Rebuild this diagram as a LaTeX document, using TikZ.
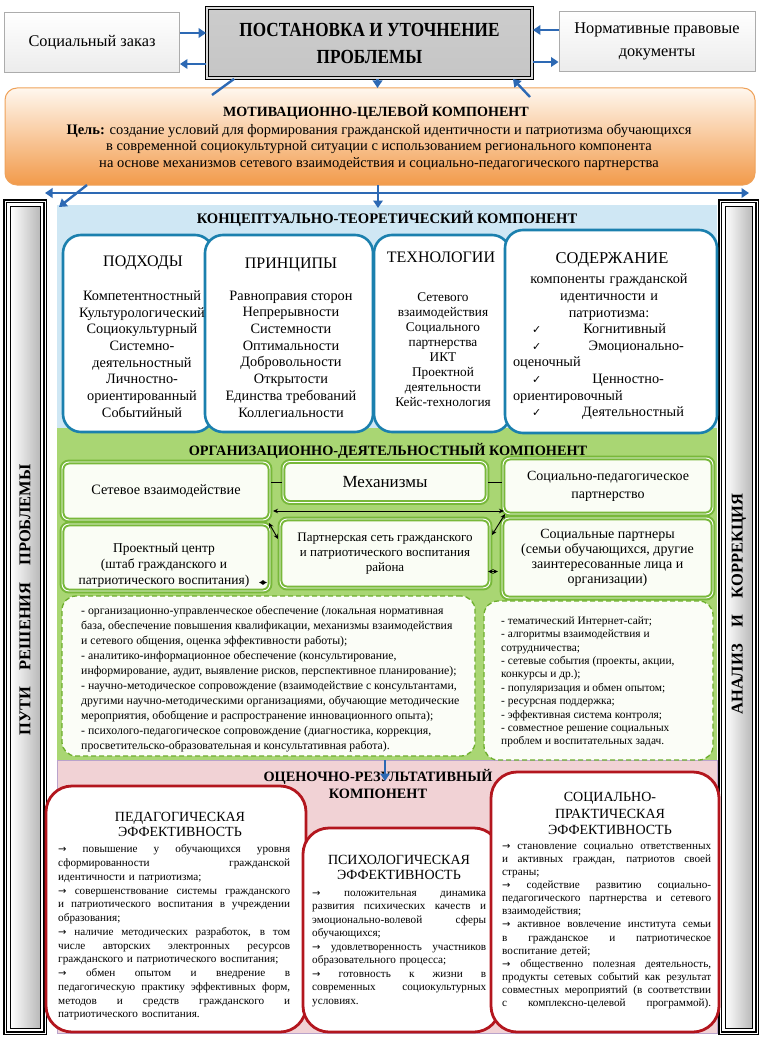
\documentclass[tikz,border=0pt]{standalone}
\usepackage{fontspec}
\usepackage{graphicx}
\setmainfont{Liberation Serif}
\newfontfamily\dvs{DejaVu Sans}
\usetikzlibrary{arrows.meta}
\definecolor{arrowb}{HTML}{2D69B4}
\definecolor{blueb}{HTML}{1B80AE}
\definecolor{bluesec}{HTML}{CFE7F4}
\definecolor{greensec}{HTML}{A9D673}
\definecolor{greenb}{HTML}{78B83A}
\definecolor{greenf}{HTML}{FAFDF5}
\definecolor{greend}{HTML}{6DAE2C}
\definecolor{dashf}{HTML}{FBFDF7}
\definecolor{pinksec}{HTML}{F1D2D5}
\definecolor{pinkb}{HTML}{B9A3CB}
\definecolor{redb}{HTML}{B3161E}
\definecolor{orangeb}{HTML}{EFA25A}
\definecolor{orangebot}{HTML}{F29A4A}
\definecolor{orangemid}{HTML}{FAD0A3}
\definecolor{orangetop}{HTML}{FFF7EE}
\newcommand\fs[2]{\fontsize{#1}{#2}\selectfont}
\newcommand\jl[1]{\leavevmode\hbox to \hsize{\spaceskip=0.25em plus 1fil\xspaceskip=0.25em plus 1fil\relax #1}}
\newcommand\cl[1]{\leavevmode\hbox to \hsize{\hfil #1\hfil}}
\newcommand\rar{{\dvs\fontsize{10}{10}\selectfont →}}
\newcommand\chk{{\dvs\fontsize{11}{11}\selectfont ✓}}
\tikzset{
 sect/.style={anchor=north west, inner sep=0, outer sep=0},
 bbox/.style={draw=blueb, line width=2.6pt, fill=white, rounded corners=18pt, inner sep=0},
 gbox/.style={draw=greenb, double=white, double distance=0.9pt, line width=2pt, fill=greenf, rounded corners=7pt, inner sep=0, align=center},
 dbox/.style={draw=greend, dash pattern=on 5pt off 3pt, line width=1.3pt, fill=dashf, rounded corners=14pt, inner sep=0},
 rbox/.style={draw=redb, line width=2.8pt, fill=white, rounded corners=26pt, inner sep=0},
 barr/.style={draw=arrowb, line width=2.4pt, -{Triangle[length=7.5pt,width=9.5pt]}},
 barrtwo/.style={draw=arrowb, line width=2.4pt, {Triangle[length=7.5pt,width=9.5pt]}-{Triangle[length=7.5pt,width=9.5pt]}},
 karr/.style={draw=black, line width=0.9pt, {Stealth[length=5pt,width=4.5pt]}-{Stealth[length=5pt,width=4.5pt]}},
 kline/.style={draw=black, line width=0.8pt},
 txt/.style={inner sep=0, align=center},
 barout/.style={sect, draw=black, line width=1.1pt, double=white, double distance=0.9pt, fill=white},
 barin/.style={draw=black, line width=0.7pt, left color=white, right color=gray!55, inner sep=0},
 bartext/.style={rotate=90, inner sep=0, font=\bfseries\fs{16.5}{16.5}},
 topbox/.style={draw=gray!65, line width=0.9pt, top color=white, bottom color=gray!15, inner sep=0, align=center},
}
\begin{document}
\begin{tikzpicture}[x=1pt,y=-1pt]
\useasboundingbox (0,0) rectangle (759,1038);
\fill[white] (0,0) rectangle (759,1038);

% ---------- sections ----------
\node[sect, fill=bluesec, minimum width=660pt, minimum height=223pt] (blue) at (57,205) {};
\node[sect, fill=greensec, minimum width=660pt, minimum height=333pt] (green) at (57,428) {};
\node[sect, fill=pinksec, draw=pinkb, line width=1pt, minimum width=660pt, minimum height=273pt] (pink) at (57,760) {};

% ---------- side bars ----------
\node[barout, minimum width=40pt, minimum height=832pt] (lbar) at (5,201) {};
\node[barin, minimum width=30pt, minimum height=822pt] (lbari) at (lbar.center) {};
\node[bartext] (lbart) at (25,600) {ПУТИ\hspace{1em}РЕШЕНИЯ\hspace{1em}ПРОБЛЕМЫ};
\node[barout, minimum width=37pt, minimum height=832pt] (rbar) at (720,201) {};
\node[barin, minimum width=27pt, minimum height=822pt] (rbari) at (rbar.center) {};
\node[bartext] (rbart) at (739,604) {АНАЛИЗ\hspace{1em}И\hspace{1em}КОРРЕКЦИЯ};

% ---------- top ----------
\node[topbox, minimum width=175pt, minimum height=60pt, font=\fs{16.3}{19}] (soc) at (92,42) {Социальный заказ};
\node[draw=black, line width=1.8pt, double=gray!30, double distance=1.2pt, top color=gray!40, middle color=gray!8, bottom color=gray!45, minimum width=325pt, minimum height=70pt, inner sep=0, align=center, font=\bfseries\fs{20}{27}] (prob) at (369.5,43) {\scalebox{0.86}[1]{ПОСТАНОВКА И УТОЧНЕНИЕ}\\\scalebox{0.86}[1]{ПРОБЛЕМЫ}};
\node[topbox, minimum width=196pt, minimum height=60pt, font=\fs{16.3}{23}] (norm) at (657,41) {Нормативные правовые\\документы};

\draw[barr] ([yshift=9pt]soc.east) -- ([yshift=9pt]soc.east -| prob.west);
\draw[barr] ([yshift=-21pt]prob.west) -- ([yshift=-21pt]prob.west -| soc.east);
\draw[barr] ([yshift=11pt]norm.west) -- ([yshift=11pt]norm.west -| prob.east);
\draw[barr] ([yshift=-19pt]prob.east) -- ([yshift=-19pt]prob.east -| norm.west);

% ---------- motivation ----------
\node[sect, draw=orangeb, line width=1pt, rounded corners=12pt, top color=orangetop, middle color=orangemid, bottom color=orangebot, minimum width=750pt, minimum height=97pt] (mot) at (5,88) {};
\node[txt, font=\bfseries\fs{14.1}{17}] (mott) at (376,112) {МОТИВАЦИОННО-ЦЕЛЕВОЙ КОМПОНЕНТ};
\node[txt, font=\fs{14.5}{16.6}] (motb) at (379,147) {\textbf{Цель:} создание условий для формирования гражданской идентичности и патриотизма обучающихся\\в современной социокультурной ситуации с использованием регионального компонента\\на основе механизмов сетевого взаимодействия и социально-педагогического партнерства};

\draw[draw=arrowb, line width=2.4pt] ([xshift=28pt]prob.south west) -- ([xshift=207pt,yshift=-7pt]mot.north west);
\draw[barr] ([xshift=8pt]prob.south) -- ([xshift=8pt]prob.south |- mot.north);
\draw[barr] ([xshift=-225pt,yshift=-9pt]mot.north east) -- ([xshift=-20pt]prob.south east);

\coordinate (hl) at (45,193);
\coordinate (hr) at (749,193);
\draw[barrtwo] (hl) -- (hr);
\draw[barr] ([xshift=-2pt]mot.south) -- ([xshift=-2pt,yshift=-3pt]blue.north -| mot.south);
\draw[barr] ([xshift=82pt]mot.south west) -- ([xshift=14pt,yshift=-6pt]lbar.north east);

% ---------- conceptual ----------
\node[txt, font=\bfseries\fs{14.6}{17}] (bluet) at (387,219) {КОНЦЕПТУАЛЬНО-ТЕОРЕТИЧЕСКИЙ КОМПОНЕНТ};
\node[bbox, minimum width=150pt, minimum height=197pt] (pod) at (138,333.5) {};
\node[bbox, minimum width=168pt, minimum height=197pt] (prin) at (289,333.5) {};
\node[bbox, minimum width=136pt, minimum height=197pt] (tech) at (442,333.5) {};
\node[bbox, minimum width=212pt, minimum height=203pt] (sod) at (611,331.5) {};

\node[txt, font=\fs{16}{18}] (podh) at (143,263) {ПОДХОДЫ};
\node[txt, font=\fs{14.3}{16.7}] (podb) at (142,354) {Компетентностный\\Культурологический\\Социокультурный\\Системно-\\деятельностный\\Личностно-\\ориентированный\\Событийный};
\node[txt, font=\fs{16}{18}] (prinh) at (291,265) {ПРИНЦИПЫ};
\node[txt, font=\fs{14.3}{16.7}] (prinb) at (291,354) {Равноправия сторон\\Непрерывности\\Системности\\Оптимальности\\Добровольности\\Открытости\\Единства требований\\Коллегиальности};
\node[txt, font=\fs{16}{18}] (techh) at (441,257) {ТЕХНОЛОГИИ};
\node[txt, font=\fs{13.3}{15}] (techb) at (443,350) {Сетевого\\взаимодействия\\Социального\\партнерства\\ИКТ\\Проектной\\деятельности\\Кейс-технология};
\node[txt, font=\fs{16.5}{18}] (sodh) at (612,260) {СОДЕРЖАНИЕ};
\node[inner sep=0, text width=192pt, align=left, font=\fs{14.3}{16.6}] (sodb) at (609,347) {%
\cl{компоненты гражданской}\\
\cl{идентичности и}\\
\cl{патриотизма:}\\
\cl{\hspace{19pt}\chk\hfill Когнитивный\hspace{39pt}}\\
\cl{\hspace{19pt}\chk\hfill Эмоционально-\hspace{21pt}}\\
\cl{оценочный\hfill}\\
\cl{\hspace{19pt}\chk\hfill Ценностно-\hspace{41pt}}\\
\cl{ориентировочный\hfill}\\
\cl{\hspace{19pt}\chk\hfill Деятельностный\hspace{21pt}}};

% ---------- organisational ----------
\node[txt, font=\bfseries\fs{14.3}{17}] (greent) at (388,451) {ОРГАНИЗАЦИОННО-ДЕЯТЕЛЬНОСТНЫЙ КОМПОНЕНТ};
\node[gbox, minimum width=208pt, minimum height=58pt, font=\fs{14.3}{17}] (setev) at (166,491) {Сетевое взаимодействие};
\node[gbox, minimum width=204pt, minimum height=41pt, font=\fs{17}{19}] (mech) at (385,482) {Механизмы};
\node[gbox, minimum width=210pt, minimum height=56pt, font=\fs{14}{18}] (socped) at (608,486) {Социально-педагогическое\\партнерство};
\node[gbox, minimum width=208pt, minimum height=67pt] (proekt) at (166,557.5) {};
\node[txt, font=\fs{13.5}{16}] (proektt) at (164,565) {Проектный центр\\(штаб гражданского и\\патриотического воспитания)};
\node[gbox, minimum width=210pt, minimum height=69pt, font=\fs{13}{15}] (partner) at (385,553.5) {Партнерская сеть гражданского\\и патриотического воспитания\\района};
\node[gbox, minimum width=211pt, minimum height=80pt, font=\fs{14}{15}] (socpart) at (607.5,558) {Социальные партнеры\\(семьи обучающихся, другие\\заинтересованные лица и\\организации)};

\draw[kline] (mech.west) -- (mech.west -| setev.east);
\draw[kline] (mech.east) -- (mech.east -| socped.west);
\draw[karr] ([xshift=2pt,yshift=-20pt]setev.east) -- ([xshift=2pt,yshift=-20pt]setev.east -| socped.west);
\draw[karr] ([xshift=-2pt,yshift=-2pt]setev.south east) -- ([xshift=-1pt,yshift=-21pt]partner.north west);
\draw[karr] ([xshift=1pt,yshift=-17pt]partner.north east) -- ([xshift=3pt,yshift=1pt]socped.south west);
\draw[karr] ([xshift=-12pt,yshift=-25pt]proekt.east) -- ([xshift=-12pt,yshift=-25pt]proekt.east -| partner.west);
\draw[karr] ([xshift=-3pt,yshift=-18pt]partner.east) -- ([xshift=-3pt,yshift=-18pt]partner.east -| socpart.west);

\node[dbox, minimum width=413pt, minimum height=160pt] (dl) at (268.5,676) {};
\node[anchor=west, inner sep=0, align=left, font=\fs{11.8}{15}] (dlt) at (81,679) {%
- организационно-управленческое обеспечение (локальная нормативная\\
база, обеспечение повышения квалификации, механизмы взаимодействия\\
и сетевого общения, оценка эффективности работы);\\
- аналитико-информационное обеспечение (консультирование,\\
информирование, аудит, выявление рисков, перспективное планирование);\\
- научно-методическое сопровождение (взаимодействие с консультантами,\\
другими научно-методическими организациями, обучающие методические\\
мероприятия, обобщение и распространение инновационного опыта);\\
- психолого-педагогическое сопровождение (диагностика, коррекция,\\
просветительско-образовательная и консультативная работа).};
\node[dbox, minimum width=229pt, minimum height=159pt] (dr) at (598.5,680.5) {};
\node[anchor=west, inner sep=0, align=left, font=\fs{11.4}{13.4}] (drt) at (501,682) {%
- тематический Интернет-сайт;\\
- алгоритмы взаимодействия и\\
сотрудничества;\\
- сетевые события (проекты, акции,\\
конкурсы и др.);\\
- популяризация и обмен опытом;\\
- ресурсная поддержка;\\
- эффективная система контроля;\\
- совместное решение социальных\\
проблем и воспитательных задач.};

% ---------- evaluation ----------
\node[txt, font=\bfseries\fs{14.3}{17}] (pinkt) at (378,783.5) {ОЦЕНОЧНО-РЕЗУЛЬТАТИВНЫЙ\\КОМПОНЕНТ};
\draw[barr, line width=1.8pt] ([xshift=-2pt]pink.north) -- ([xshift=-2pt,yshift=-21pt]pink.north);

\node[rbox, minimum width=260pt, minimum height=246pt] (ped) at (176,909) {};
\node[rbox, minimum width=197pt, minimum height=204pt] (psy) at (401.5,930) {};
\node[rbox, minimum width=228pt, minimum height=260pt] (soce) at (605,902) {};

\node[txt, font=\fs{14}{15}] (pedh) at (180,824.5) {ПЕДАГОГИЧЕСКАЯ\\ЭФФЕКТИВНОСТЬ};
\node[anchor=west, text width=232pt, align=left, inner sep=0, font=\fs{11.2}{13.75}] (pedb) at (58,932.5) {%
\jl{\rar{} повышение у обучающихся уровня}\\
\jl{сформированности гражданской}\\
идентичности и патриотизма;\\
\jl{\rar{} совершенствование системы гражданского}\\
\jl{и патриотического воспитания в учреждении}\\
образования;\\
\jl{\rar{} наличие методических разработок, в том}\\
\jl{числе авторских электронных ресурсов}\\
гражданского и патриотического воспитания;\\
\jl{\rar{} обмен опытом и внедрение в}\\
\jl{педагогическую практику эффективных форм,}\\
\jl{методов и средств гражданского и}\\
патриотического воспитания.};

\node[txt, font=\fs{14}{15}] (psyh) at (399,867.5) {ПСИХОЛОГИЧЕСКАЯ\\ЭФФЕКТИВНОСТЬ};
\node[anchor=west, text width=174pt, align=left, inner sep=0, font=\fs{11.2}{13.5}] (psyb) at (312,949) {%
\jl{\rar{} положительная динамика}\\
\jl{развития психических качеств и}\\
\jl{эмоционально-волевой сферы}\\
обучающихся;\\
\jl{\rar{} удовлетворенность участников}\\
образовательного процесса;\\
\jl{\rar{} готовность к жизни в}\\
\jl{современных социокультурных}\\
условиях.};

\node[txt, font=\fs{14}{16.5}] (soch) at (610,813.5) {СОЦИАЛЬНО-\\ПРАКТИЧЕСКАЯ\\ЭФФЕКТИВНОСТЬ};
\node[anchor=west, text width=209pt, align=left, inner sep=0, font=\fs{11.2}{13.1}] (socb) at (502,926.5) {%
\jl{\rar{} становление социально ответственных}\\
\jl{и активных граждан, патриотов своей}\\
страны;\\
\jl{\rar{} содействие развитию социально-}\\
\jl{педагогического партнерства и сетевого}\\
взаимодействия;\\
\jl{\rar{} активное вовлечение института семьи}\\
\jl{в гражданское и патриотическое}\\
воспитание детей;\\
\jl{\rar{} общественно полезная деятельность,}\\
\jl{продукты сетевых событий как результат}\\
\jl{совместных мероприятий (в соответствии}\\
\jl{с комплексно-целевой программой).}};
\end{tikzpicture}
\end{document}
